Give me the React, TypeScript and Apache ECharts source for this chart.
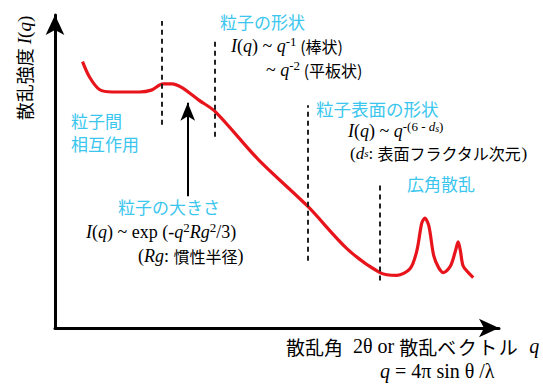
import React, { useEffect, useRef } from "react";
import * as echarts from "echarts";

// Schematic small-angle scattering profile, axes in arbitrary units (0–100)
const curveQ = [6.2, 7.8, 10.0, 12.9, 19.0, 21.7, 24.3, 26.3, 28.6, 32.4, 36.2, 45.8, 56.9, 65.8, 73.2, 77.0, 80.0, 81.5, 82.6, 83.3, 84.2, 85.3, 86.4, 87.5, 89.1, 90.2, 90.8, 91.3, 91.9, 93.1, 94.2];
const curveI = [85.1, 80.1, 76.2, 75.4, 75.4, 76.0, 78.0, 78.0, 76.8, 72.8, 69.0, 53.8, 38.9, 25.3, 17.7, 16.8, 19.0, 24.7, 33.5, 35.1, 32.6, 23.1, 19.3, 17.7, 19.9, 24.7, 27.5, 24.7, 19.9, 17.7, 16.1];

// Regime boundaries (dashed verticals)
const boundaryQ = [24.1, 35.9, 56.9, 73.2];
const boundaryTop = [98.1, 92.1, 71.2, 46.2];
const boundaryBottom = [64.9, 61.1, 21.5, 15.2];

// Arrow pointing at the Guinier shoulder
const arrowQ = 29.9;
const arrowFrom = 42.1;
const arrowTo = 72.0;

const CYAN = "#3ac6ee";
const RED = "#e8141b";
const INK = "#111111";
const SERIF = "'Liberation Serif', 'DejaVu Serif', serif";
const CJK = "'Noto Sans CJK JP', 'Noto Sans', sans-serif";

const rich = {
  i: { fontFamily: SERIF, fontStyle: "italic", fontSize: 18, color: INK },
  r: { fontFamily: SERIF, fontSize: 18, color: INK },
  s: { fontFamily: SERIF, fontSize: 13, color: INK, padding: [0, 0, 9, 0] },
  si: { fontFamily: SERIF, fontStyle: "italic", fontSize: 13, color: INK, padding: [0, 0, 9, 0] },
  ssub: { fontFamily: SERIF, fontStyle: "italic", fontSize: 10, color: INK, padding: [0, 0, 5, 0] },
  j: { fontFamily: CJK, fontSize: 16, color: INK },
  ri: { fontFamily: SERIF, fontStyle: "italic", fontSize: 17, color: INK },
  rs: { fontFamily: SERIF, fontSize: 17, color: INK },
  ss: { fontFamily: SERIF, fontStyle: "italic", fontSize: 11, color: INK },
  xl: { fontFamily: SERIF, fontSize: 20, color: INK },
  xi: { fontFamily: SERIF, fontStyle: "italic", fontSize: 20, color: INK },
  xj: { fontFamily: CJK, fontSize: 19, color: INK },
  xk: { fontFamily: CJK, fontSize: 19, color: INK, width: 20.5 },
};

const cyanLabel = (x: number, y: number, text: string, size = 17) => ({
  type: "text",
  x,
  y,
  style: { text, fill: CYAN, font: `${size}px ${CJK}`, verticalAlign: "middle" },
});

const richLabel = (x: number, y: number, text: string) => ({
  type: "text",
  x,
  y,
  style: { text, rich, verticalAlign: "middle" },
});

export default function App() {
  const ref = useRef<HTMLDivElement>(null);

  useEffect(() => {
    if (!ref.current) return;
    const chart = echarts.init(ref.current, undefined, { renderer: "svg" });

    const curve = curveQ.map((q, k) => [q, curveI[k]]);
    const boundaries = boundaryQ.map((q, k) => [
      { coord: [q, boundaryBottom[k]] },
      { coord: [q, boundaryTop[k]] },
    ]);

    const axisCommon = {
      type: "value" as const,
      min: 0,
      max: 100,
      axisLine: {
        show: true,
        symbol: ["none", "arrow"],
        symbolSize: [14, 20],
        lineStyle: { color: "#000", width: 3 },
      },
      axisTick: { show: false },
      axisLabel: { show: false },
      splitLine: { show: false },
    };

    chart.setOption({
      animation: false,
      backgroundColor: "#ffffff",
      grid: { left: 55, right: 44, top: 15, bottom: 61 },
      xAxis: { ...axisCommon },
      yAxis: { ...axisCommon },
      series: [
        {
          type: "line",
          data: curve,
          smooth: 0.3,
          showSymbol: false,
          lineStyle: { color: RED, width: 3.2 },
          z: 3,
        },
        {
          type: "line",
          data: [],
          markLine: {
            silent: true,
            symbol: ["none", "none"],
            label: { show: false },
            lineStyle: { color: "#222", width: 2, type: [5, 4] },
            data: boundaries,
          },
        },
        {
          type: "line",
          data: [],
          markLine: {
            silent: true,
            symbol: ["none", "arrow"],
            symbolSize: [11, 18],
            label: { show: false },
            lineStyle: { color: "#000", width: 2, type: "solid" },
            data: [[{ coord: [arrowQ, arrowFrom] }, { coord: [arrowQ, arrowTo] }]],
          },
        },
      ],
      graphic: [
        {
          type: "text",
          x: 24,
          y: 68,
          rotation: Math.PI / 2,
          style: {
            text: "{j|散乱強度 }{i|I}{r|(}{i|q}{r|)}",
            rich: {
              ...rich,
              j: { fontFamily: CJK, fontSize: 18, color: INK },
              i: { fontFamily: SERIF, fontStyle: "italic", fontSize: 19, color: INK },
              r: { fontFamily: SERIF, fontSize: 19, color: INK },
            },
            align: "center",
            verticalAlign: "middle",
          },
        },
        cyanLabel(220, 21, "粒子の形状"),
        richLabel(231, 46, "{i|I}{r|(}{i|q}{r|) ~ }{i|q}{s|-1}{j| (棒状)}"),
        richLabel(266, 70, "{r|~ }{i|q}{s|-2}{j| (平板状)}"),
        cyanLabel(316, 108, "粒子表面の形状", 17.5),
        richLabel(348, 131, "{i|I}{r|(}{i|q}{r|) ~ }{i|q}{s|-(6 - }{si|d}{ssub|s}{s|)}"),
        richLabel(350, 153, "{rs|(}{ri|d}{ss|s}{rs|: }{j|表面フラクタル次元}{rs|)}"),
        cyanLabel(407, 183, "広角散乱"),
        cyanLabel(71, 120, "粒子間"),
        cyanLabel(71, 143, "相互作用"),
        cyanLabel(118, 206, "粒子の大きさ"),
        richLabel(86, 232, "{i|I}{r|(}{i|q}{r|) ~ exp (-}{i|q}{s|2}{i|R}{i|g}{s|2}{r|/3)}"),
        richLabel(138, 256, "{r|(}{i|R}{i|g}{r|: }{j|慣性半径}{r|)}"),
        richLabel(
          286,
          346,
          "{xj|散乱角}{xl|  2θ or }{xj|散乱}{xk|ベ}{xk|ク}{xk|ト}{xk|ル}{xl|  }{xi|q}"
        ),
        richLabel(380, 371, "{xi|q}{xl| = 4π sin θ /λ}"),
      ],
    });

    return () => chart.dispose();
  }, []);

  return (
    <div
      ref={ref}
      style={{ position: "fixed", left: 0, top: 0, width: 543, height: 389, background: "#fff" }}
    />
  );
}
